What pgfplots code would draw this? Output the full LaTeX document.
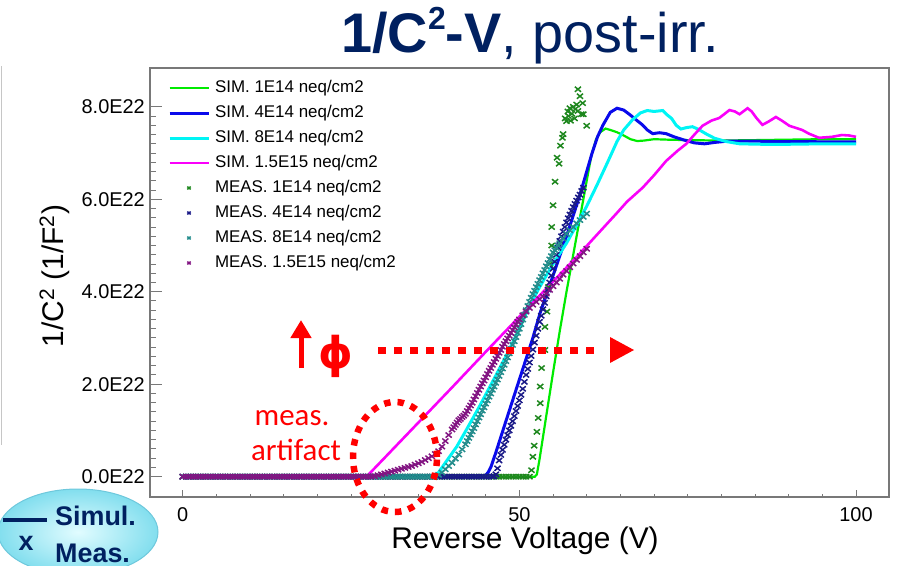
\documentclass[border=0pt]{standalone}
\usepackage{pgfplots}
\pgfplotsset{compat=1.18}
\usepackage{fontspec}
\setmainfont{Liberation Sans}
\newfontfamily\carlito{Carlito}
\newfontfamily\dejavu{DejaVu Sans}
\usetikzlibrary{arrows.meta}
\definecolor{simgreen}{RGB}{0,235,0}
\definecolor{simblue}{RGB}{10,10,235}
\definecolor{simcyan}{RGB}{0,245,245}
\definecolor{simmag}{RGB}{250,0,250}
\definecolor{measgreen}{RGB}{30,135,30}
\definecolor{measnavy}{RGB}{25,25,135}
\definecolor{measteal}{RGB}{35,140,140}
\definecolor{measpurple}{RGB}{130,20,130}
\definecolor{titlenavy}{RGB}{0,32,96}
\definecolor{framegray}{RGB}{120,120,120}
\definecolor{annred}{RGB}{255,0,0}
\pgfplotsset{measmark/.style={only marks, mark=x, mark size=3.6bp, mark options={solid, line width=1.5bp, xscale=1.2}}}
\begin{document}
\begin{tikzpicture}
\path[use as bounding box] (0,0) rectangle (897bp,-566bp);
\draw[gray!45, line width=1.5bp] (1.5bp,-66bp) -- (1.5bp,-445bp);
\begin{axis}[
  at={(150bp,-497bp)}, anchor=south west,
  width=739bp, height=429bp, scale only axis,
  xmin=-4.86, xmax=104.9, ymin=-0.44, ymax=8.84,
  axis line style={framegray, line width=1.2bp},
  tick align=inside, xtick pos=lower, ytick pos=left,
  xtick={0,50,100}, minor x tick num=9,
  ytick={0,2,4,6,8}, yticklabels={0.0E22,2.0E22,4.0E22,6.0E22,8.0E22},
  minor y tick num=9,
  tick style={framegray, line width=1bp},
  xtick style={/pgfplots/major tick length=7bp, /pgfplots/minor tick length=3.5bp},
  ytick style={/pgfplots/major tick length=12bp, /pgfplots/minor tick length=6bp},
  tick label style={font=\fontsize{20}{24}\selectfont, text=black},
  xticklabel style={anchor=north, inner sep=0pt, yshift=-10bp},
  yticklabel style={anchor=east, inner sep=0pt, xshift=-5bp},
  /pgf/number format/assume math mode=true,
  legend style={draw=none, fill=none, at={(axis description cs:0,1)}, anchor=north west,
    xshift=18bp, yshift=-12bp, inner sep=0pt, outer sep=0pt, row sep=9bp, column sep=5bp,
    font=\fontsize{17}{18}\selectfont, nodes={inner sep=0pt, text height=12bp, text depth=4bp}},
  legend cell align=left,
  legend image code/.code={\draw[mark repeat=2,mark phase=2,#1,mark size=2bp] plot coordinates {(0bp,0bp) (19.5bp,0bp) (39bp,0bp)};},
]
% ---------------- SIM ----------------
\addplot[simgreen, line width=2.2bp, no markers] coordinates {
(0,0) (52.3,0) (52.6,0.05) (53,0.38) (54,1.32) (55,2.25) (56,3.15) (57,4.0) (58,4.8) (59,5.6) (60,6.4) (60.7,6.95) (61.4,7.3) (62,7.45) (62.8,7.53) (63.5,7.5) (64.5,7.45) (65.5,7.38) (66.5,7.3) (67.5,7.26) (68.5,7.27) (70,7.3) (72,7.29) (75,7.28) (80,7.27) (85,7.28) (90,7.29) (95,7.3) (100,7.3)};
\addlegendentry{SIM. 1E14 neq/cm2}
\addplot[simblue, line width=3bp, no markers] coordinates {
(0,0) (44.8,0) (45.4,0.1) (45.8,0.22) (46.5,0.52) (48,1.2) (50,2.1) (52,3.0) (53.1,3.55) (55,4.35) (57,5.2) (59,6.1) (60,6.6) (60.8,7.0) (61.6,7.35) (62.4,7.6) (63.5,7.88) (64.5,7.97) (65.5,7.93) (66.5,7.82) (67.5,7.7) (68.2,7.62) (69,7.5) (69.8,7.42) (70.8,7.44) (71.8,7.42) (73,7.35) (74.5,7.28) (76,7.22) (77.5,7.2) (79,7.23) (81,7.26) (84,7.26) (88,7.25) (92,7.25) (96,7.24) (100,7.24)};
\addlegendentry{SIM. 4E14 neq/cm2}
\addplot[simcyan, line width=3bp, no markers] coordinates {
(0,0) (37.3,0) (37.8,0.05) (39,0.3) (40.7,0.65) (42,0.98) (44,1.5) (46,2.05) (48,2.6) (50,3.2) (51.6,3.72) (53,4.1) (55,4.6) (57,5.05) (58.6,5.47) (60,5.85) (61.5,6.3) (63.1,6.8) (64.5,7.25) (65.5,7.5) (66.8,7.72) (68,7.87) (69,7.92) (70,7.9) (71.3,7.92) (72,7.82) (72.6,7.75) (73.3,7.6) (74,7.52) (74.8,7.55) (75.7,7.57) (76.5,7.52) (77.8,7.41) (79,7.32) (80.7,7.25) (82.7,7.2) (86,7.19) (90,7.19) (95,7.2) (100,7.2)};
\addlegendentry{SIM. 8E14 neq/cm2}
\addplot[simmag, line width=2.6bp, no markers] coordinates {
(0,0) (27.3,0) (30,0.41) (35,1.17) (40,1.93) (45,2.7) (50,3.46) (55,4.22) (58.5,4.75) (61,5.15) (64.4,5.69) (66,5.95) (68.3,6.25) (70,6.52) (71.8,6.83) (73.5,7.05) (74.8,7.2) (76,7.4) (77.2,7.59) (78.5,7.7) (79.7,7.76) (80.5,7.85) (81.2,7.93) (82,7.9) (82.7,7.84) (83.9,7.97) (84.5,7.9) (85.2,7.76) (86.1,7.61) (87,7.68) (88.1,7.78) (89,7.7) (90.1,7.59) (92,7.5) (93,7.42) (94.5,7.33) (96.4,7.35) (97.9,7.39) (99,7.38) (100,7.35)};
\addlegendentry{SIM. 1.5E15 neq/cm2}
% ---------------- MEAS ----------------
\addplot[measgreen, measmark] coordinates {
(0,0) (0.5,0) (1,0) (1.5,0) (2,0) (2.5,0) (3,0) (3.5,0) (4,0) (4.5,0) (5,0) (5.5,0) (6,0) (6.5,0) (7,0) (7.5,0) (8,0) (8.5,0) (9,0) (9.5,0) (10,0) (10.5,0) (11,0) (11.5,0) (12,0) (12.5,0) (13,0) (13.5,0) (14,0) (14.5,0) (15,0) (15.5,0) (16,0) (16.5,0) (17,0) (17.5,0) (18,0) (18.5,0) (19,0) (19.5,0) (20,0) (20.5,0) (21,0) (21.5,0) (22,0) (22.5,0) (23,0) (23.5,0) (24,0) (24.5,0) (25,0) (25.5,0) (26,0) (26.5,0) (27,0) (27.5,0) (28,0)
(28.5,0) (29,0) (29.5,0) (30,0) (30.5,0) (31,0) (31.5,0) (32,0) (32.5,0) (33,0) (33.5,0) (34,0) (34.5,0) (35,0) (35.5,0) (36,0) (36.5,0) (37,0) (37.5,0)
(38,0) (38.5,0) (39,0) (39.5,0) (40,0) (40.5,0) (41,0) (41.5,0) (42,0) (42.5,0) (43,0) (43.5,0) (44,0) (44.5,0) (45,0) (45.5,0) (46,0)
(46.5,0) (47,0) (47.5,0) (48,0) (48.5,0) (49,0) (49.5,0) (50,0) (50.5,0) (51,0) (51.5,0)
(51.8,0.14) (52,0.43) (52.2,0.67) (52.6,0.97) (52.8,1.27) (53.1,1.59) (53.1,1.95) (53.3,2.35) (53.8,2.74) (53.8,3.24) (54.1,3.57) (54.3,4.1) (54.5,4.6) (54.8,5.0) (54.8,5.4) (55,5.87) (55.3,6.38) (55.9,6.77) (55.6,6.9) (56.1,7.16) (56.4,7.33) (56.5,7.41) (57,7.69) (56.8,7.75) (57.3,7.8) (57.2,7.9) (57.5,7.97) (57.6,7.7) (57.8,7.85) (58,8.0) (58.2,7.75) (58.3,7.95) (58.5,8.05) (58.7,7.91) (59.2,7.84) (59.5,7.84) (59.4,8.08) (59,8.23) (58.7,8.38) (60,7.59)};
\addlegendentry{MEAS. 1E14 neq/cm2}
\addplot[measnavy, measmark] coordinates {
(0,0) (0.5,0) (1,0) (1.5,0) (2,0) (2.5,0) (3,0) (3.5,0) (4,0) (4.5,0) (5,0) (5.5,0) (6,0) (6.5,0) (7,0) (7.5,0) (8,0) (8.5,0) (9,0) (9.5,0) (10,0) (10.5,0) (11,0) (11.5,0) (12,0) (12.5,0) (13,0) (13.5,0) (14,0) (14.5,0) (15,0) (15.5,0) (16,0) (16.5,0) (17,0) (17.5,0) (18,0) (18.5,0) (19,0) (19.5,0) (20,0) (20.5,0) (21,0) (21.5,0) (22,0) (22.5,0) (23,0) (23.5,0) (24,0) (24.5,0) (25,0) (25.5,0) (26,0) (26.5,0) (27,0) (27.5,0) (28,0)
(28.5,0) (29,0) (29.5,0) (30,0) (30.5,0) (31,0) (31.5,0) (32,0) (32.5,0) (33,0) (33.5,0) (34,0) (34.5,0) (35,0) (35.5,0) (36,0) (36.5,0) (37,0) (37.5,0)
(38,0) (38.5,0) (39,0) (39.5,0) (40,0) (40.5,0) (41,0) (41.5,0) (42,0) (42.5,0) (43,0) (43.5,0) (44,0) (44.5,0) (45,0) (45.5,0) (46,0)
(46.25,0.01) (46.5,0.05) (46.75,0.18) (47,0.35) (47.25,0.47) (47.5,0.58) (47.75,0.69) (48,0.8) (48.25,0.9) (48.5,1.0) (48.75,1.1) (49,1.2) (49.25,1.31) (49.5,1.42) (49.75,1.53) (50,1.65) (50.25,1.77) (50.5,1.9) (50.75,2.05) (51,2.2) (51.25,2.33) (51.5,2.47) (51.75,2.61) (52,2.75) (52.25,2.9) (52.5,3.05) (52.75,3.2) (53,3.35) (53.25,3.48) (53.5,3.62) (53.75,3.76) (54,3.9) (54.25,4.05) (54.5,4.2) (54.75,4.35) (55,4.5) (55.25,4.65) (55.5,4.8) (55.75,4.95) (56,5.1) (56.25,5.2) (56.5,5.3) (56.75,5.4) (57,5.5) (57.25,5.59) (57.5,5.67) (57.75,5.75) (58,5.83) (58.25,5.9) (58.5,5.97) (58.75,6.04) (59,6.1) (59.25,6.18) (59.5,6.25)};
\addlegendentry{MEAS. 4E14 neq/cm2}
\addplot[measteal, measmark] coordinates {
(0,0) (0.5,0) (1,0) (1.5,0) (2,0) (2.5,0) (3,0) (3.5,0) (4,0) (4.5,0) (5,0) (5.5,0) (6,0) (6.5,0) (7,0) (7.5,0) (8,0) (8.5,0) (9,0) (9.5,0) (10,0) (10.5,0) (11,0) (11.5,0) (12,0) (12.5,0) (13,0) (13.5,0) (14,0) (14.5,0) (15,0) (15.5,0) (16,0) (16.5,0) (17,0) (17.5,0) (18,0) (18.5,0) (19,0) (19.5,0) (20,0) (20.5,0) (21,0) (21.5,0) (22,0) (22.5,0) (23,0) (23.5,0) (24,0) (24.5,0) (25,0) (25.5,0) (26,0) (26.5,0) (27,0) (27.5,0) (28,0)
(28.5,0) (29,0) (29.5,0) (30,0) (30.5,0) (31,0) (31.5,0) (32,0) (32.5,0) (33,0) (33.5,0) (34,0) (34.5,0) (35,0) (35.5,0) (36,0) (36.5,0) (37,0) (37.5,0)
(38,0.04) (38.5,0.09) (39,0.16) (39.5,0.23) (40,0.3) (40.5,0.39) (41,0.48) (41.5,0.59)
(42,0.7) (42.25,0.77) (42.5,0.84) (42.75,0.91) (43,0.98) (43.25,1.05) (43.5,1.13) (43.75,1.2) (44,1.28) (44.25,1.35) (44.5,1.43) (44.75,1.5) (45,1.58) (45.25,1.65) (45.5,1.73) (45.75,1.8) (46,1.88) (46.25,1.95) (46.5,2.03) (46.75,2.1) (47,2.18) (47.25,2.26) (47.5,2.34) (47.75,2.42) (48,2.5) (48.25,2.58) (48.5,2.67) (48.75,2.76) (49,2.85) (49.25,2.93) (49.5,3.02) (49.75,3.11) (50,3.2) (50.25,3.3) (50.5,3.4) (50.75,3.5) (51,3.6) (51.25,3.69) (51.5,3.78) (51.75,3.87) (52,3.95) (52.25,4.02) (52.5,4.1) (52.75,4.17) (53,4.25) (53.25,4.32) (53.5,4.4) (53.75,4.47) (54,4.55) (54.25,4.62) (54.5,4.7) (54.75,4.77) (55,4.85) (55.25,4.9) (55.5,4.95) (55.75,5.0)
(56,5.05) (56.5,5.15) (57,5.25) (57.5,5.33) (58,5.4) (58.5,5.48) (59,5.55) (59.5,5.62) (60,5.69)};
\addlegendentry{MEAS. 8E14 neq/cm2}
\addplot[measpurple, measmark] coordinates {
(0,0) (0.5,0) (1,0) (1.5,0) (2,0) (2.5,0) (3,0) (3.5,0) (4,0) (4.5,0) (5,0) (5.5,0) (6,0) (6.5,0) (7,0) (7.5,0) (8,0) (8.5,0) (9,0) (9.5,0) (10,0) (10.5,0) (11,0) (11.5,0) (12,0) (12.5,0) (13,0) (13.5,0) (14,0) (14.5,0) (15,0) (15.5,0) (16,0) (16.5,0) (17,0) (17.5,0) (18,0) (18.5,0) (19,0) (19.5,0) (20,0) (20.5,0) (21,0) (21.5,0) (22,0) (22.5,0) (23,0) (23.5,0) (24,0) (24.5,0) (25,0) (25.5,0) (26,0) (26.5,0) (27,0) (27.5,0) (28,0)
(28.5,0.01) (29,0.03) (29.5,0.05) (30,0.07) (30.5,0.09) (31,0.11) (31.5,0.13) (32,0.15) (32.5,0.17) (33,0.19) (33.5,0.21) (34,0.23) (34.5,0.26) (35,0.29) (35.5,0.32) (36,0.36) (36.5,0.40) (37,0.44) (37.5,0.49) (38,0.55) (38.5,0.65) (39,0.77) (39.5,0.9)
(40,1.02) (40.25,1.07) (40.5,1.12) (40.75,1.17) (41,1.22) (41.25,1.25) (41.5,1.29) (41.75,1.32) (42,1.36) (42.25,1.42) (42.5,1.48) (42.75,1.54) (43,1.6) (43.25,1.67) (43.5,1.74) (43.75,1.81) (44,1.88) (44.25,1.95) (44.5,2.02) (44.75,2.08) (45,2.15) (45.25,2.22) (45.5,2.29) (45.75,2.35) (46,2.42) (46.25,2.48) (46.5,2.55) (46.75,2.61) (47,2.68) (47.25,2.74) (47.5,2.81) (47.75,2.87) (48,2.93) (48.25,2.99) (48.5,3.05) (48.75,3.11) (49,3.17) (49.25,3.23) (49.5,3.29) (49.75,3.35)
(50,3.4) (50.5,3.49) (51,3.57) (51.5,3.65) (52,3.72) (52.5,3.78) (53,3.84) (53.5,3.9) (54,3.96) (54.5,4.04) (55,4.12) (55.5,4.2) (56,4.28) (56.5,4.37) (57,4.45) (57.5,4.53) (58,4.61) (58.5,4.69) (59,4.77) (59.5,4.85) (60,4.93)};
\addlegendentry{MEAS. 1.5E15 neq/cm2}
\end{axis}
% titles and labels
\node[anchor=base, text=titlenavy, font=\fontsize{56}{60}\selectfont, inner sep=0pt] at (530bp,-52bp) {\textbf{1/C\raisebox{0.4em}{\fontsize{32}{32}\selectfont 2}-V}, post-irr.};
\node[rotate=90, anchor=base, font=\fontsize{30}{36}\selectfont, inner sep=0pt] at (63bp,-276bp) {1/C\textsuperscript{2} (1/F\textsuperscript{2})};
\node[anchor=base, font=\fontsize{30}{36}\selectfont, inner sep=0pt] at (525bp,-548bp) {Reverse Voltage (V)};
% bubble
\shade[inner color={rgb,255:red,225;green,252;blue,255}, outer color={rgb,255:red,130;green,222;blue,238}] (78bp,-532bp) ellipse [x radius=80bp, y radius=43bp];
\draw[color={rgb,255:red,110;green,200;blue,220}, line width=1bp] (78bp,-532bp) ellipse [x radius=80bp, y radius=43bp];
\draw[titlenavy, line width=3.5bp] (3bp,-520bp) -- (47bp,-520bp);
\node[anchor=base west, text=titlenavy, font=\bfseries\fontsize{27}{30}\selectfont, inner sep=0pt] at (55bp,-525bp) {Simul.};
\node[anchor=base west, text=titlenavy, font=\bfseries\fontsize{27}{30}\selectfont, inner sep=0pt] at (55bp,-562bp) {Meas.};
\node[anchor=base, text=titlenavy, font=\bfseries\fontsize{27}{30}\selectfont, inner sep=0pt] at (26bp,-550bp) {x};
% red annotations
\draw[annred, line width=5bp, -{Triangle[width=20bp,length=18bp]}] (301bp,-368bp) -- (301bp,-320bp);
\node[text=annred, font=\dejavu\bfseries\fontsize{44}{50}\selectfont, anchor=base, inner sep=0pt] at (336bp,-368bp) {ϕ};
\draw[annred, line width=7bp, dash pattern=on 8bp off 8bp] (378bp,-350bp) -- (600bp,-350bp);
\fill[annred] (610bp,-337bp) -- (634bp,-350bp) -- (610bp,-363bp) -- cycle;
\draw[annred, line width=6.5bp, dash pattern=on 6.5bp off 7bp] (395bp,-457bp) ellipse [x radius=42bp, y radius=55bp];
\node[text=annred, font=\carlito\fontsize{31}{36}\selectfont, anchor=base, inner sep=0pt] at (292bp,-425bp) {meas.};
\node[text=annred, font=\carlito\fontsize{31}{36}\selectfont, anchor=base, inner sep=0pt] at (296bp,-460bp) {artifact};
\end{tikzpicture}
\end{document}
